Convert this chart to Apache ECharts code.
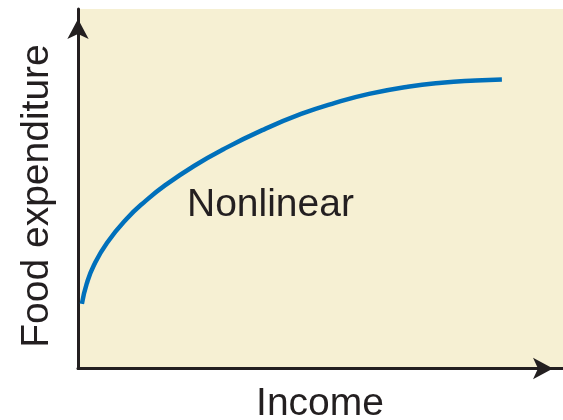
<!DOCTYPE html>
<html>
<head>
<meta charset="utf-8">
<script src="https://cdn.jsdelivr.net/npm/echarts@6/dist/echarts.min.js"></script>
<style>
  html, body { margin: 0; padding: 0; background: #fff; }
  #chart { width: 563px; height: 420px; }
</style>
</head>
<body>
<div id="chart"></div>
<script>
// curve, axes run 0..100 (no units shown)
const incomeX = [0.8, 1.8, 3.3, 6, 10, 14, 18, 24, 30, 38, 46, 53, 60, 68, 75, 82, 87.4]
const foodY = [18, 23.6, 28.8, 35, 41.6, 46.7, 51, 56.4, 61, 66.3, 70.8, 73.9, 76.4, 78.4, 79.5, 80.1, 80.4]
const xTitle = 'Income'
const yTitle = 'Food expenditure'
const curveLabel = 'Nonlinear'

const ink = '#231f20'
const font = '"Liberation Sans", Arial, sans-serif'

const chart = echarts.init(document.getElementById('chart'))

const axisLine = {
  show: true,
  symbol: ['none', 'arrow'],
  symbolSize: [16, 20],
  symbolOffset: [0, -10],
  lineStyle: { color: ink, width: 3 },
}

chart.setOption({
  animation: false,
  grid: {
    left: 78,
    right: 0,
    top: 9,
    bottom: 51.5,
    show: true,
    backgroundColor: '#f6f0d3',
    borderWidth: 0,
  },
  xAxis: {
    type: 'value',
    min: 0,
    max: 100,
    axisLine: axisLine,
    axisTick: { show: false },
    axisLabel: { show: false },
    splitLine: { show: false },
  },
  yAxis: {
    type: 'value',
    min: 0,
    max: 100,
    axisLine: axisLine,
    axisTick: { show: false },
    axisLabel: { show: false },
    splitLine: { show: false },
  },
  graphic: [
    {
      type: 'text',
      x: 187,
      y: 205,
      style: {
        text: curveLabel,
        font: '39px ' + font,
        fill: ink,
        align: 'left',
        verticalAlign: 'middle',
      },
    },
    {
      type: 'text',
      x: 320,
      y: 404,
      style: {
        text: xTitle,
        font: '39px ' + font,
        fill: ink,
        align: 'center',
        verticalAlign: 'middle',
      },
    },
    {
      type: 'text',
      x: 37,
      y: 196,
      rotation: Math.PI / 2,
      style: {
        text: yTitle,
        font: '39px ' + font,
        fill: ink,
        align: 'center',
        verticalAlign: 'middle',
      },
    },
  ],
  series: [
    {
      type: 'line',
      data: incomeX.map((x, i) => [x, foodY[i]]),
      smooth: true,
      showSymbol: false,
      lineStyle: { color: '#0070bb', width: 4.5, cap: 'butt' },
    },
  ],
})
</script>
</body>
</html>
